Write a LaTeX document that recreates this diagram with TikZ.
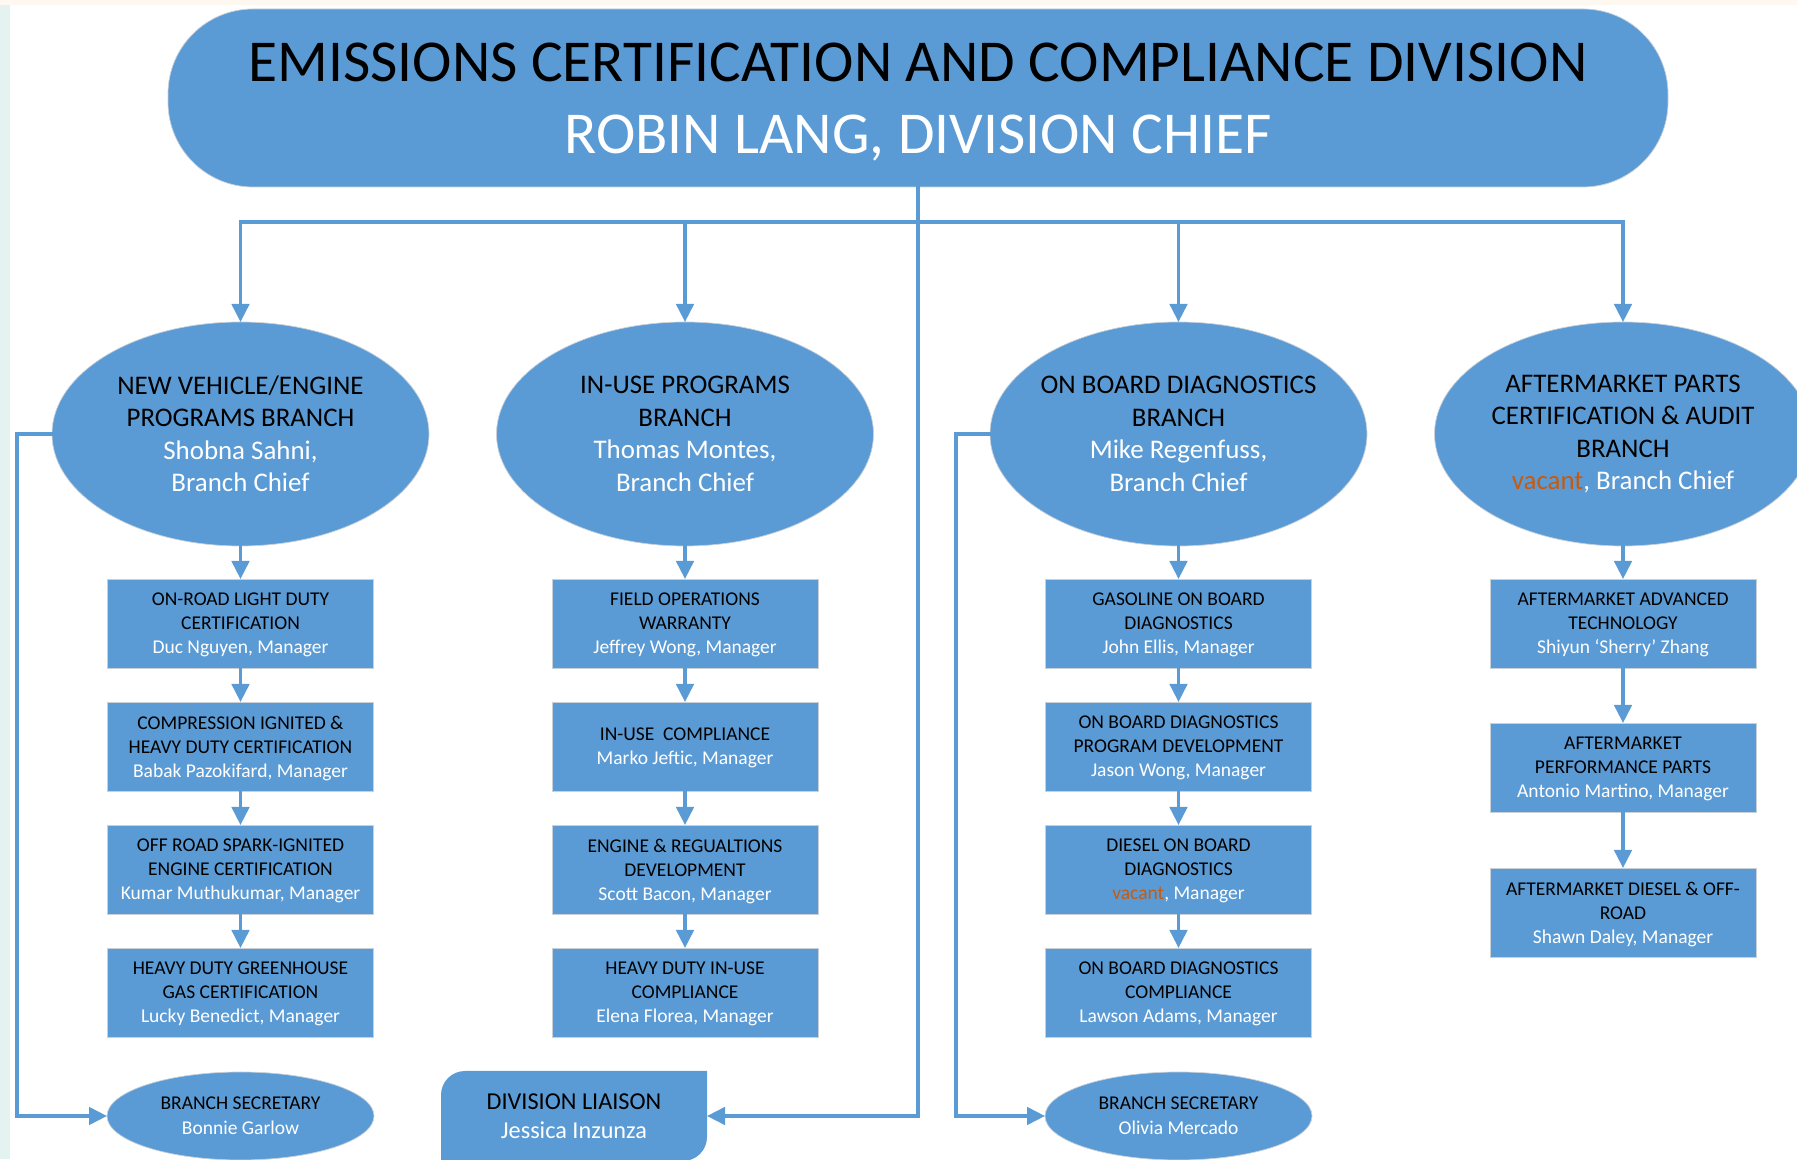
\documentclass[tikz,border=0pt]{standalone}
\usepackage{fontspec}
\setmainfont{Carlito}
\definecolor{NodeBlue}{HTML}{5B9BD5}
\definecolor{EdgeGray}{HTML}{C9D0D8}
\definecolor{VacantRed}{HTML}{C55A11}
\definecolor{StripMint}{HTML}{E4F3F0}
\definecolor{StripPeach}{HTML}{FFF8F1}
\usepackage{tikz}
\usetikzlibrary{arrows.meta,positioning,shapes.geometric,backgrounds}
\newcommand{\nm}[1]{\textcolor{white}{#1}}
\newcommand{\vac}{\textcolor{VacantRed}{vacant}}

\begin{document}
\begin{tikzpicture}[
        branchoval/.style={ellipse,fill=NodeBlue,draw=EdgeGray,line width=0.4pt,
                     minimum width=7.54cm,minimum height=4.48cm,inner ysep=0pt,
                     inner xsep=-0.3cm,outer sep=0pt,align=center,
                     font=\fontsize{15.3}{18.5}\selectfont},
        unitbox/.style={rectangle,fill=NodeBlue,draw=EdgeGray,line width=0.4pt,
                     minimum width=5.32cm,minimum height=1.78cm,inner sep=0pt,
                     outer sep=0pt,align=center,text depth=0pt,
                     font=\fontsize{11.1}{13.7}\selectfont},
        secoval/.style={ellipse,fill=NodeBlue,draw=EdgeGray,line width=0.4pt,
                     minimum width=5.34cm,minimum height=1.76cm,inner sep=0pt,
                     outer sep=0pt,align=center,
                     font=\fontsize{11.1}{14}\selectfont},
        linkline/.style={NodeBlue,line width=1.8pt,line cap=rect},
        linkarrow/.style={linkline,-{Triangle[length=0.36cm,width=0.35cm]}}]
        \useasboundingbox (0,0) rectangle (35.94,23.18);
        \fill[StripMint] (0,0) rectangle (0.2,23.18);
        \fill[StripPeach] (0,23.08) rectangle (35.94,23.18);

        \node[rectangle,rounded corners=1.7cm,fill=NodeBlue,draw=EdgeGray,
              line width=0.4pt,minimum width=30cm,minimum height=3.56cm,
              outer sep=0pt,align=center,text depth=0pt,
              font=\fontsize{33.8}{41}\selectfont]
              (title) at (18.36,21.22)
              {EMISSIONS CERTIFICATION AND COMPLIANCE DIVISION\\
               \nm{ROBIN LANG, DIVISION CHIEF}};

        \node[branchoval] (nv) at (4.81,14.50)
              {NEW VEHICLE/ENGINE\\PROGRAMS BRANCH\\\nm{Shobna Sahni,}\\\nm{Branch Chief}};
        \node[branchoval] (iu) at (13.70,14.50)
              {IN-USE PROGRAMS\\BRANCH\\\nm{Thomas Montes,}\\\nm{Branch Chief}};
        \node[branchoval] (obd) at (23.57,14.50)
              {ON BOARD DIAGNOSTICS\\BRANCH\\\nm{Mike Regenfuss,}\\\nm{Branch Chief}};
        \node[branchoval] (am) at (32.46,14.50)
              {AFTERMARKET PARTS\\CERTIFICATION \& AUDIT\\BRANCH\\\vac\nm{, Branch Chief}};

        \node[unitbox,below=0.66cm of nv] (nv1)
              {ON-ROAD LIGHT DUTY\\CERTIFICATION\\\nm{Duc Nguyen, Manager}};
        \node[unitbox,below=0.68cm of nv1] (nv2)
              {COMPRESSION IGNITED \&\\HEAVY DUTY CERTIFICATION\\\nm{Babak Pazokifard, Manager}};
        \node[unitbox,below=0.68cm of nv2] (nv3)
              {OFF ROAD SPARK-IGNITED\\ENGINE CERTIFICATION\\\nm{Kumar Muthukumar, Manager}};
        \node[unitbox,below=0.68cm of nv3] (nv4)
              {HEAVY DUTY GREENHOUSE\\GAS CERTIFICATION\\\nm{Lucky Benedict, Manager}};

        \node[unitbox,below=0.66cm of iu] (iu1)
              {FIELD OPERATIONS\\WARRANTY\\\nm{Jeffrey Wong, Manager}};
        \node[unitbox,below=0.68cm of iu1] (iu2)
              {IN-USE\ \ COMPLIANCE\\\nm{Marko Jeftic, Manager}};
        \node[unitbox,below=0.68cm of iu2] (iu3)
              {ENGINE \& REGUALTIONS\\DEVELOPMENT\\\nm{Scott Bacon, Manager}};
        \node[unitbox,below=0.68cm of iu3] (iu4)
              {HEAVY DUTY IN-USE\\COMPLIANCE\\\nm{Elena Florea, Manager}};

        \node[unitbox,below=0.66cm of obd] (obd1)
              {GASOLINE ON BOARD\\DIAGNOSTICS\\\nm{John Ellis, Manager}};
        \node[unitbox,below=0.68cm of obd1] (obd2)
              {ON BOARD DIAGNOSTICS\\PROGRAM DEVELOPMENT\\\nm{Jason Wong, Manager}};
        \node[unitbox,below=0.68cm of obd2] (obd3)
              {DIESEL ON BOARD\\DIAGNOSTICS\\\vac\nm{ , Manager}};
        \node[unitbox,below=0.68cm of obd3] (obd4)
              {ON BOARD DIAGNOSTICS\\COMPLIANCE\\\nm{Lawson Adams, Manager}};

        \node[unitbox,below=0.66cm of am] (am1)
              {AFTERMARKET ADVANCED\\TECHNOLOGY\\\nm{Shiyun ‘Sherry’ Zhang}};
        \node[unitbox,below=1.1cm of am1] (am2)
              {AFTERMARKET\\PERFORMANCE PARTS\\\nm{Antonio Martino, Manager}};
        \node[unitbox,below=1.12cm of am2] (am3)
              {AFTERMARKET DIESEL \& OFF-\\ROAD\\\nm{Shawn Daley, Manager}};

        \node[secoval,below=0.7cm of nv4] (nvsec)
              {BRANCH SECRETARY\\\nm{Bonnie Garlow}};
        \node[secoval,below=0.7cm of obd4] (obdsec)
              {BRANCH SECRETARY\\\nm{Olivia Mercado}};
        \node[rectangle,minimum width=5.32cm,minimum height=1.8cm,inner sep=0pt,
              outer sep=0pt,align=center,font=\fontsize{13.8}{16.4}\selectfont]
              (liaison) at (11.48,0.86) {DIVISION LIAISON\\\nm{Jessica Inzunza}};
        \begin{scope}[on background layer]
          \fill[NodeBlue] (liaison.north east) -- ([yshift=0.48cm]liaison.south east)
                arc[start angle=0,end angle=-90,radius=0.48cm] -- (liaison.south west)
                -- ([yshift=-0.48cm]liaison.north west)
                arc[start angle=180,end angle=90,radius=0.48cm] -- cycle;
        \end{scope}

        \coordinate (bus) at (0,18.74);
        \draw[linkline] (nv.north |- bus) -- (am.north |- bus);
        \foreach \b in {nv,iu,obd,am}{
          \draw[linkarrow] (\b.north |- bus) -- (\b.north);
        }
        \draw[linkarrow] (title.south) |- (liaison.east);
        \foreach \a/\b in {nv/nv1,nv1/nv2,nv2/nv3,nv3/nv4,iu/iu1,iu1/iu2,iu2/iu3,
                           iu3/iu4,obd/obd1,obd1/obd2,obd2/obd3,obd3/obd4,
                           am/am1,am1/am2,am2/am3}{
          \draw[linkarrow] (\a.south) -- (\b.north);
        }
        \draw[linkarrow] (nv.west) -- ++(-0.7,0) |- (nvsec.west);
        \draw[linkarrow] (obd.west) -- ++(-0.68,0) |- (obdsec.west);
      \end{tikzpicture}
\end{document}
